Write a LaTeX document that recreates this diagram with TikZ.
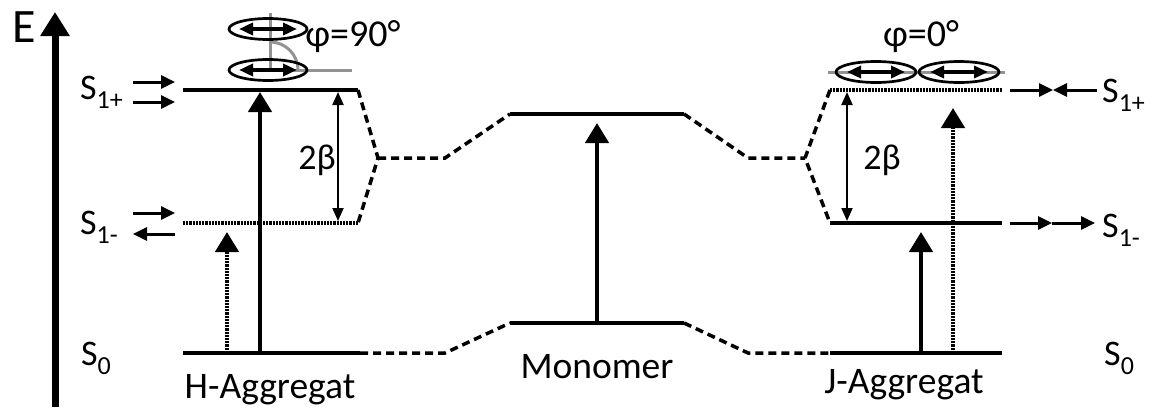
\documentclass[tikz,border=0pt]{standalone}
\usepackage{fontspec}
\setmainfont{Carlito}
\usetikzlibrary{arrows.meta,shapes.geometric}
\newcommand{\lvl}[1]{S\raisebox{-9pt}{\fontsize{26}{26}\selectfont #1}}
\begin{document}
\begin{tikzpicture}[x=1pt,y=-1pt,
  lvline/.style={line width=4pt},
  dotlevel/.style={line width=4pt, dash pattern=on 2.2pt off 1pt},
  conn/.style={line width=3.5pt, dash pattern=on 8pt off 5pt},
  bigarrow/.style={line width=4.5pt, -{Triangle[width=23pt,length=20pt]}},
  dotarrow/.style={line width=4.5pt, dash pattern=on 2.2pt off 1pt, -{Triangle[width=23pt,length=20pt]}},
  sidearrow/.style={line width=3pt, -{Triangle[width=13pt,length=14pt]}},
  betaarrow/.style={line width=2pt, {Triangle[width=11pt,length=13pt]}-{Triangle[width=11pt,length=13pt]}},
  dipole/.style={line width=3.5pt, {Triangle[width=12pt,length=14pt]}-{Triangle[width=12pt,length=14pt]}},
  ell/.style={draw, ellipse, line width=2.7pt, minimum width=78pt, minimum height=21pt, inner sep=0pt},
  grayline/.style={line width=3pt, draw=gray!85},
  lab/.style={font=\fontsize{36}{40}\selectfont, anchor=base west, inner sep=0pt},
  namelab/.style={font=\fontsize{37.5}{42}\selectfont, anchor=base, inner sep=0pt},
  smalllab/.style={font=\fontsize{36}{40}\selectfont, anchor=base, inner sep=0pt},
  philab/.style={font=\fontsize{38}{42}\selectfont, anchor=base, inner sep=0pt},
]
\useasboundingbox (0,0) rectangle (1155,407);
% energy axis
\coordinate (Eb) at (55,407);
\coordinate (Et) at (55,12);
\draw[line width=7pt, -{Triangle[width=28pt,length=24pt]}] (Eb) -- (Et);
\node[font=\fontsize{48}{55}\selectfont, anchor=base west, inner sep=0pt] (E) at (12,42) {E};

% level coordinates
\coordinate (HpL) at (183,90);  \coordinate (HpR) at (358,90);
\coordinate (HmL) at (183,223); \coordinate (HmR) at (358,223);
\coordinate (H0L) at (183,353); \coordinate (H0R) at (360,353);
\coordinate (MpL) at (510,114); \coordinate (MpR) at (684,114);
\coordinate (M0L) at (510,323); \coordinate (M0R) at (684,323);
\coordinate (JpL) at (830,90);  \coordinate (JpR) at (1002,90);
\coordinate (JmL) at (830,223); \coordinate (JmR) at (1002,223);
\coordinate (J0L) at (830,353); \coordinate (J0R) at (1002,353);
\coordinate (KL) at (378,158);  \coordinate (KL2) at (445,158);
\coordinate (KR2) at (748,158); \coordinate (KR) at (805,158);
\coordinate (BL) at (445,353);  \coordinate (BR) at (748,353);

% connectors
\draw[conn] (HpR) -- (KL) -- (HmR);
\draw[conn] (KL) -- (KL2) -- (MpL);
\draw[conn] (MpR) -- (KR2) -- (KR);
\draw[conn] (JpL) -- (KR) -- (JmL);
\draw[conn] (H0R) -- (BL) -- (M0L);
\draw[conn] (M0R) -- (BR) -- (J0L);

% gray guide lines (H)
\coordinate (GV1) at (270,13); \coordinate (GV2) at (270,70); \coordinate (GH2) at (352,70);
\draw[grayline] (GV1) -- (GV2) -- (GH2);
\draw[grayline] (270,42) arc[start angle=-90, end angle=0, radius=28];
% gray line (J)
\coordinate (GJ1) at (828,72); \coordinate (GJ2) at (1005,72);
\draw[grayline] (GJ1) -- (GJ2);

% levels
\draw[lvline] (HpL) -- (HpR);
\draw[dotlevel] (HmL) -- (HmR);
\draw[lvline] (H0L) -- (H0R);
\draw[lvline] (MpL) -- (MpR);
\draw[lvline] (M0L) -- (M0R);
\draw[dotlevel] (JpL) -- (JpR);
\draw[lvline] (JmL) -- (JmR);
\draw[lvline] (J0L) -- (J0R);

% transitions
\coordinate (a1s) at (260,353); \coordinate (a1e) at (260,92);
\coordinate (a2s) at (227,353); \coordinate (a2e) at (227,232);
\coordinate (a3s) at (597,323); \coordinate (a3e) at (597,123);
\coordinate (a4s) at (921,353); \coordinate (a4e) at (921,232);
\coordinate (a5s) at (953,353); \coordinate (a5e) at (953,108);
\draw[bigarrow] (a1s) -- (a1e);
\draw[dotarrow] (a2s) -- (a2e);
\draw[bigarrow] (a3s) -- (a3e);
\draw[bigarrow] (a4s) -- (a4e);
\draw[dotarrow] (a5s) -- (a5e);

% 2 beta
\coordinate (b1t) at (338,92); \coordinate (b1b) at (338,221);
\coordinate (b2t) at (847,92); \coordinate (b2b) at (847,221);
\draw[betaarrow] (b1t) -- (b1b);
\draw[betaarrow] (b2t) -- (b2b);
\node[smalllab] (beta1) at (317,169) {2β};
\node[smalllab] (beta2) at (882,169) {2β};

% ellipses with dipoles
\node[ell] (e1) at (268,70) {};
\node[ell] (e2) at (268,29) {};
\node[ell, minimum width=80pt] (e3) at (876,72) {};
\node[ell, minimum width=80pt] (e4) at (959,72) {};
\draw[dipole] ([xshift=-29pt]e1.center) -- ([xshift=29pt]e1.center);
\draw[dipole] ([xshift=-29pt]e2.center) -- ([xshift=29pt]e2.center);
\draw[dipole] ([xshift=-29pt]e3.center) -- ([xshift=29pt]e3.center);
\draw[dipole] ([xshift=-29pt]e4.center) -- ([xshift=29pt]e4.center);
\node[philab] (phi90) at (353,46) {φ=90°};
\node[philab] (phi0) at (921,46) {φ=0°};

% left labels and side arrows
\node[lab] (LSp) at (80,99) {\lvl{1+}};
\node[lab] (LSm) at (80,234) {\lvl{1-}};
\node[lab] (LS0) at (81,365) {\lvl{0}};
\coordinate (la1) at (133,82);  \coordinate (lb1) at (175,82);
\coordinate (la2) at (133,102); \coordinate (lb2) at (175,102);
\coordinate (la3) at (133,213); \coordinate (lb3) at (175,213);
\coordinate (la4) at (133,234); \coordinate (lb4) at (175,234);
\draw[sidearrow] (la1) -- (lb1);
\draw[sidearrow] (la2) -- (lb2);
\draw[sidearrow] (la3) -- (lb3);
\draw[sidearrow] (lb4) -- (la4);

% right labels and side arrows
\node[lab] (RSp) at (1102,102) {\lvl{1+}};
\node[lab] (RSm) at (1102,237) {\lvl{1-}};
\node[lab] (RS0) at (1104,365) {\lvl{0}};
\coordinate (ra1) at (1010,90); \coordinate (rm1) at (1053,90); \coordinate (rb1) at (1097,90);
\coordinate (ra2) at (1010,223); \coordinate (rm2) at (1052,223); \coordinate (rb2) at (1095,223);
\draw[sidearrow] (ra1) -- (rm1);
\draw[sidearrow] (rb1) -- (rm1);
\draw[sidearrow] (ra2) -- (rm2);
\draw[sidearrow] (rm2) -- (rb2);

% names
\node[namelab] (Hn) at (270,398) {H-Aggregat};
\node[namelab] (Mn) at (597,378) {Monomer};
\node[namelab] (Jn) at (904,393) {J-Aggregat};
\end{tikzpicture}
\end{document}
